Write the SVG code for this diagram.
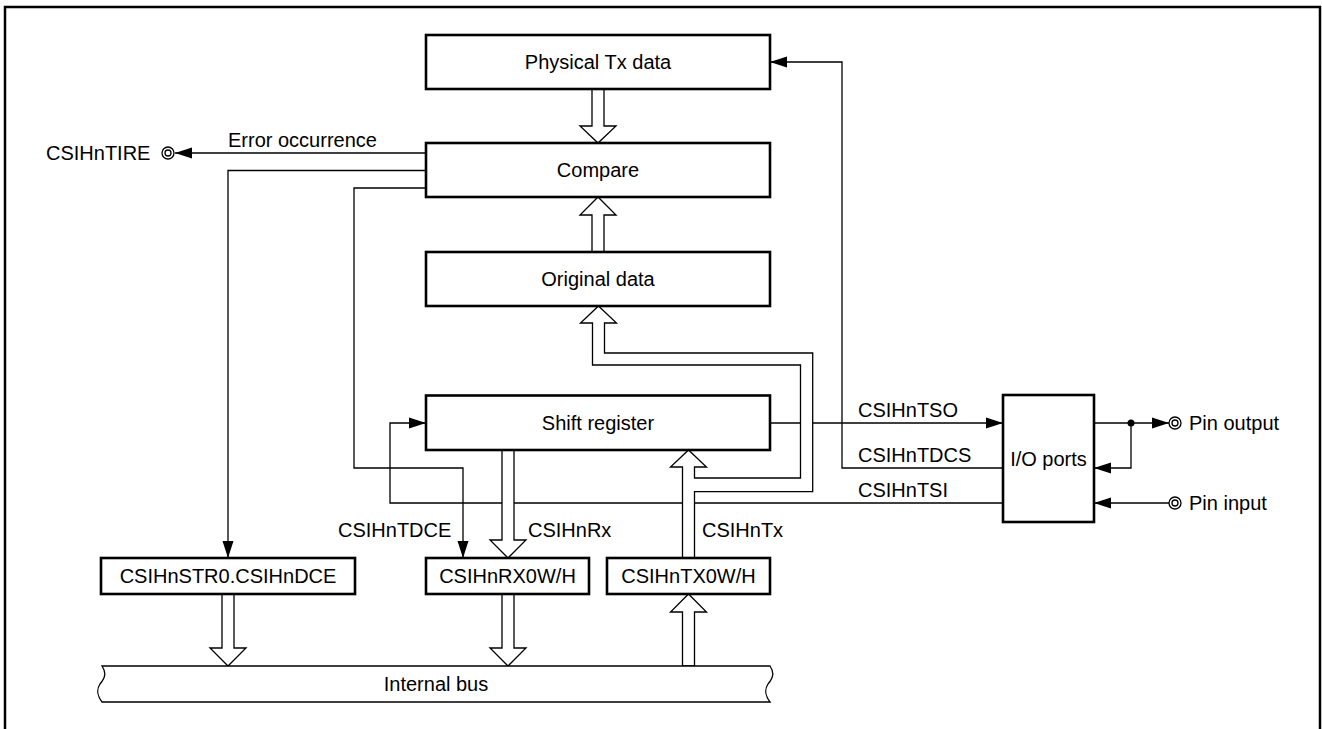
<svg xmlns="http://www.w3.org/2000/svg" width="1322" height="729" viewBox="0 0 1322 729">
<defs>
<style>
.box{fill:#fff;stroke:#000;stroke-width:2.6}
.ln{fill:none;stroke:#000;stroke-width:1.3}
.ha{fill:#fff;stroke:#000;stroke-width:1.3;stroke-linejoin:miter}
.t{font-family:"Liberation Sans",Arial,Helvetica,sans-serif;font-size:20px;fill:#000}
.c{text-anchor:middle}
.dc{fill:#fff;stroke:#000;stroke-width:1.3}
</style>
<marker id="ah" markerUnits="userSpaceOnUse" markerWidth="17" markerHeight="12" refX="17" refY="6" orient="auto">
<path d="M0,0.5 L17,6 L0,11.5 Z" fill="#000"/>
</marker>
</defs>
<rect width="1322" height="729" fill="#fff"/>
<path d="M5,729 V7 H1320 V729" fill="none" stroke="#000" stroke-width="2.5"/>

<g id="connectors">
<!-- Error occurrence -->
<path class="ln" d="M426,153 H175" marker-end="url(#ah)"/>
<!-- Compare to STR0 -->
<path class="ln" d="M426,170.5 H228 V558" marker-end="url(#ah)"/>
<!-- CSIHnTDCE -->
<path class="ln" d="M426,188 H354 V468 H463 V558" marker-end="url(#ah)"/>
<!-- CSIHnTSI -->
<path class="ln" d="M1003,503 H390 V423 H426" marker-end="url(#ah)"/>
<!-- CSIHnTSO -->
<path class="ln" d="M770,423 H1003" marker-end="url(#ah)"/>
<!-- CSIHnTDCS -->
<path class="ln" d="M1003,468 H842 V62 H770" marker-end="url(#ah)"/>
<!-- Pin output -->
<path class="ln" d="M1094,423 H1169" marker-end="url(#ah)"/>
<path class="ln" d="M1131,423 V468 H1094" marker-end="url(#ah)"/>
<circle cx="1131" cy="423" r="3.5" fill="#000"/>
<!-- Pin input -->
<path class="ln" d="M1169,503 H1094" marker-end="url(#ah)"/>

<!-- hollow arrows -->
<path class="ha" d="M592,89 V126 H580 L598,143 L616,126 H604 V89 Z"/>
<path class="ha" d="M592,252 V215 H580 L598,197 L616,215 H604 V252 Z"/>
<path class="ha" d="M598.5,306 L616.5,323 H604.5 V353 H812.7 V491.7 H694.5 V558 H682.5 V467 H670.5 L688.5,450 L706.5,467 H694.5 V478 H800.5 V365 H592.5 V323 H580.5 Z"/>
<path class="ha" d="M502,450 V540 H490 L508,558 L526,540 H514 V450 Z"/>
<path class="ha" d="M502,594 V648 H490 L508,666 L526,648 H514 V594 Z"/>
<path class="ha" d="M222,594 V648 H210 L228,666 L246,648 H234 V594 Z"/>
<path class="ha" d="M682.5,666 V612 H670.5 L688.5,594 L706.5,612 H694.5 V666 Z"/>
</g>

<g id="physical-tx-data">
<rect class="box" x="426" y="35" width="344" height="54"/>
<text class="t c" x="598" y="69">Physical Tx data</text>
</g>
<g id="compare">
<rect class="box" x="426" y="143" width="344" height="54"/>
<text class="t c" x="598" y="177">Compare</text>
</g>
<g id="original-data">
<rect class="box" x="426" y="252" width="344" height="54"/>
<text class="t c" x="598" y="286">Original data</text>
</g>
<g id="shift-register">
<rect class="box" x="426" y="395.5" width="344" height="54.5"/>
<text class="t c" x="598" y="430">Shift register</text>
</g>
<g id="io-ports">
<rect class="box" x="1003" y="395" width="91" height="127"/>
<text class="t c" x="1048.5" y="466">I/O ports</text>
</g>
<g id="csihnstr0">
<rect class="box" x="101" y="558" width="254" height="36"/>
<text class="t c" x="228" y="583">CSIHnSTR0.CSIHnDCE</text>
</g>
<g id="csihnrx0">
<rect class="box" x="426" y="558" width="163" height="36"/>
<text class="t c" x="507.5" y="583">CSIHnRX0W/H</text>
</g>
<g id="csihntx0">
<rect class="box" x="607" y="558" width="163" height="36"/>
<text class="t c" x="688.5" y="583">CSIHnTX0W/H</text>
</g>
<g id="internal-bus">
<path class="ha" d="M102,666 H770 C774,672 774,677 768,684 C764,690 766,697 770,702 H102 C98,697 96,690 100,684 C106,677 106,672 102,666 Z"/>
<text class="t c" x="436" y="691">Internal bus</text>
</g>
<g id="csihntire">
<circle class="dc" cx="168" cy="153" r="6"/>
<circle class="dc" cx="168" cy="153" r="3"/>
<text class="t" x="46" y="160">CSIHnTIRE</text>
</g>
<g id="pin-output">
<circle class="dc" cx="1175" cy="423" r="6"/>
<circle class="dc" cx="1175" cy="423" r="3"/>
<text class="t" x="1189" y="430">Pin output</text>
</g>
<g id="pin-input">
<circle class="dc" cx="1175" cy="503" r="6"/>
<circle class="dc" cx="1175" cy="503" r="3"/>
<text class="t" x="1189" y="510">Pin input</text>
</g>
<g id="labels">
<text class="t" x="228" y="147">Error occurrence</text>
<text class="t" x="338" y="537">CSIHnTDCE</text>
<text class="t" x="528" y="537">CSIHnRx</text>
<text class="t" x="702" y="537">CSIHnTx</text>
<text class="t" x="858" y="417">CSIHnTSO</text>
<text class="t" x="858" y="462">CSIHnTDCS</text>
<text class="t" x="858" y="497">CSIHnTSI</text>
</g>
</svg>
